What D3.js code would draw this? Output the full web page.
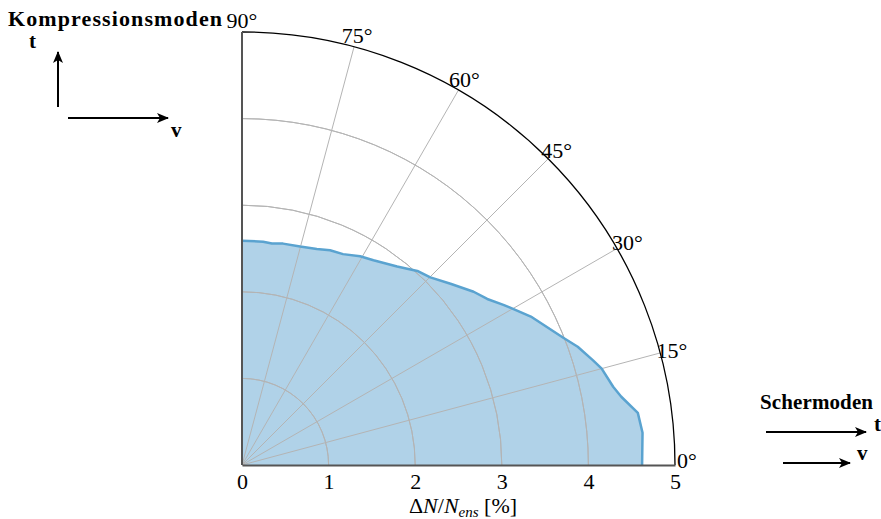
<!DOCTYPE html>
<html>
<head>
<meta charset="utf-8">
<script src="https://cdn.jsdelivr.net/npm/d3@7"></script>
<style>
  body { margin: 0; background: #fff; }
  text { font-family: "Liberation Serif", "Times New Roman", serif; fill: #000; }
</style>
</head>
<body>
<div id="chart"></div>
<script>
// polar data: angle in degrees (0 = Schermoden, 90 = Kompressionsmoden), value in %
var angleDeg = [0, 4.6, 7.5, 10.2, 11.9, 15.0, 16.6, 19.4, 21.6, 27.2, 30.4, 31.5, 34.1, 36.8,
                41.0, 44.9, 47.9, 52.0, 57.3, 60.5, 64.4, 67.7, 70.9, 75.1, 79.5, 82.3, 84.6, 90];
var deltaN   = [4.62, 4.64, 4.61, 4.45, 4.38, 4.30, 4.23, 4.11, 3.99, 3.75, 3.59, 3.54, 3.42, 3.34,
                3.19, 3.07, 3.02, 2.91, 2.81, 2.77, 2.70, 2.68, 2.64, 2.61, 2.60, 2.58, 2.59, 2.59];
var radialTicks = [0, 1, 2, 3, 4, 5];
var gridRadii = [1, 2, 3, 4];
var angleTicks = [0, 15, 30, 45, 60, 75, 90];
var spokeAngles = [15, 30, 45, 60, 75];

var width = 881, height = 519;
var cx = 242, cy = 465, R = 433;

var svg = d3.select("#chart").append("svg")
    .attr("width", width)
    .attr("height", height);

var r = d3.scaleLinear().domain([0, 5]).range([0, R]);
var rad = function(deg) { return deg * Math.PI / 180; };
// d3 radial angle: 0 at 12 o'clock, clockwise
var toD3 = function(deg) { return rad(90 - deg); };

var data = angleDeg.map(function(a, i) { return {a: a, v: deltaN[i]}; });

var g = svg.append("g")
    .attr("transform", "translate(" + cx + "," + cy + ")");

// filled area
var area = d3.areaRadial()
    .angle(function(d) { return toD3(d.a); })
    .innerRadius(0)
    .outerRadius(function(d) { return r(d.v); });

g.append("path")
    .datum(data)
    .attr("d", area)
    .attr("fill", "#b0d2e8")
    .attr("stroke", "none");

// grid circles
var arc = d3.arc()
    .innerRadius(function(d) { return r(d); })
    .outerRadius(function(d) { return r(d); })
    .startAngle(0)
    .endAngle(Math.PI / 2);

g.selectAll(".grid-arc")
    .data(gridRadii)
  .enter().append("path")
    .attr("class", "grid-arc")
    .attr("d", arc)
    .attr("fill", "none")
    .attr("stroke", "#b4b4b4")
    .attr("stroke-width", 1);

// spokes
g.selectAll(".spoke")
    .data(spokeAngles)
  .enter().append("line")
    .attr("class", "spoke")
    .attr("x1", 0).attr("y1", 0)
    .attr("x2", function(d) { return r(5) * Math.cos(rad(d)); })
    .attr("y2", function(d) { return -r(5) * Math.sin(rad(d)); })
    .attr("stroke", "#b4b4b4")
    .attr("stroke-width", 1);

// outline of the data
var line = d3.lineRadial()
    .angle(function(d) { return toD3(d.a); })
    .radius(function(d) { return r(d.v); });

g.append("path")
    .datum(data)
    .attr("d", line)
    .attr("fill", "none")
    .attr("stroke", "#5aa3d0")
    .attr("stroke-width", 2.5)
    .attr("stroke-linejoin", "round");

// outer circle
g.append("path")
    .attr("d", arc(5))
    .attr("fill", "none")
    .attr("stroke", "#000")
    .attr("stroke-width", 1.3);

// left + bottom axis lines
g.append("line")
    .attr("x1", 0).attr("y1", 0).attr("x2", 0).attr("y2", -r(5))
    .attr("stroke", "#555").attr("stroke-width", 2);

var xAxis = d3.axisBottom(r)
    .tickValues(radialTicks)
    .tickSize(0)
    .tickPadding(8)
    .tickFormat(d3.format("d"));

var ax = g.append("g")
    .attr("class", "x axis")
    .call(xAxis);
ax.select(".domain").attr("stroke", "#555").attr("stroke-width", 2);
ax.selectAll("text")
    .style("font-family", "'Liberation Serif', serif")
    .style("font-size", "22px")
    .attr("fill", "#000");

// angle labels (0° pulled up a little so it clears the "5")
g.selectAll(".angle-label")
    .data(angleTicks)
  .enter().append("text")
    .attr("class", "angle-label")
    .attr("x", function(d) { return (R + 12) * Math.cos(rad(d)); })
    .attr("y", function(d) { return -(R + 12) * Math.sin(rad(d)) - (d === 0 ? 5 : 0); })
    .attr("dy", "0.35em")
    .attr("text-anchor", "middle")
    .style("font-size", "22px")
    .text(function(d) { return d + "\u00b0"; });

// axis title
var title = svg.append("text")
    .attr("x", 463)
    .attr("y", 513)
    .attr("text-anchor", "middle")
    .style("font-size", "22px");
title.append("tspan").text("\u0394");
title.append("tspan").style("font-style", "italic").text("N");
title.append("tspan").text("/");
title.append("tspan").style("font-style", "italic").text("N");
title.append("tspan").style("font-style", "italic").style("font-size", "15px")
    .attr("dy", 4).text("ens");
title.append("tspan").attr("dy", -4).text(" [%]");

// mode legends with arrows
var defs = svg.append("defs");
defs.append("marker")
    .attr("id", "arrow")
    .attr("viewBox", "0 0 12 10")
    .attr("refX", 11).attr("refY", 5)
    .attr("markerWidth", 12).attr("markerHeight", 10)
    .attr("markerUnits", "userSpaceOnUse")
    .attr("orient", "auto")
  .append("path")
    .attr("d", "M0,0 L12,5 L0,10 L3,5 Z")
    .attr("fill", "#000");

var arrows = [
  {x1: 58, y1: 107, x2: 58, y2: 52},
  {x1: 68, y1: 118, x2: 168, y2: 118},
  {x1: 766, y1: 432, x2: 866, y2: 432},
  {x1: 783, y1: 463, x2: 850, y2: 463}
];
svg.selectAll(".arrow")
    .data(arrows)
  .enter().append("line")
    .attr("class", "arrow")
    .attr("x1", function(d) { return d.x1; })
    .attr("y1", function(d) { return d.y1; })
    .attr("x2", function(d) { return d.x2; })
    .attr("y2", function(d) { return d.y2; })
    .attr("stroke", "#000")
    .attr("stroke-width", 2)
    .attr("marker-end", "url(#arrow)");

var labels = [
  {x: 8, y: 26, t: "Kompressionsmoden", len: 214, size: 22},
  {x: 29, y: 48, t: "t", size: 21},
  {x: 171, y: 137, t: "v", size: 21},
  {x: 760, y: 409, t: "Schermoden", len: 113, size: 21},
  {x: 874, y: 431, t: "t", size: 21},
  {x: 857, y: 460, t: "v", size: 21}
];
svg.selectAll(".mode-label")
    .data(labels)
  .enter().append("text")
    .attr("class", "mode-label")
    .attr("x", function(d) { return d.x; })
    .attr("y", function(d) { return d.y; })
    .attr("textLength", function(d) { return d.len || null; })
    .attr("lengthAdjust", "spacing")
    .style("font-size", function(d) { return d.size + "px"; })
    .style("font-weight", "bold")
    .text(function(d) { return d.t; });
</script>
</body>
</html>
